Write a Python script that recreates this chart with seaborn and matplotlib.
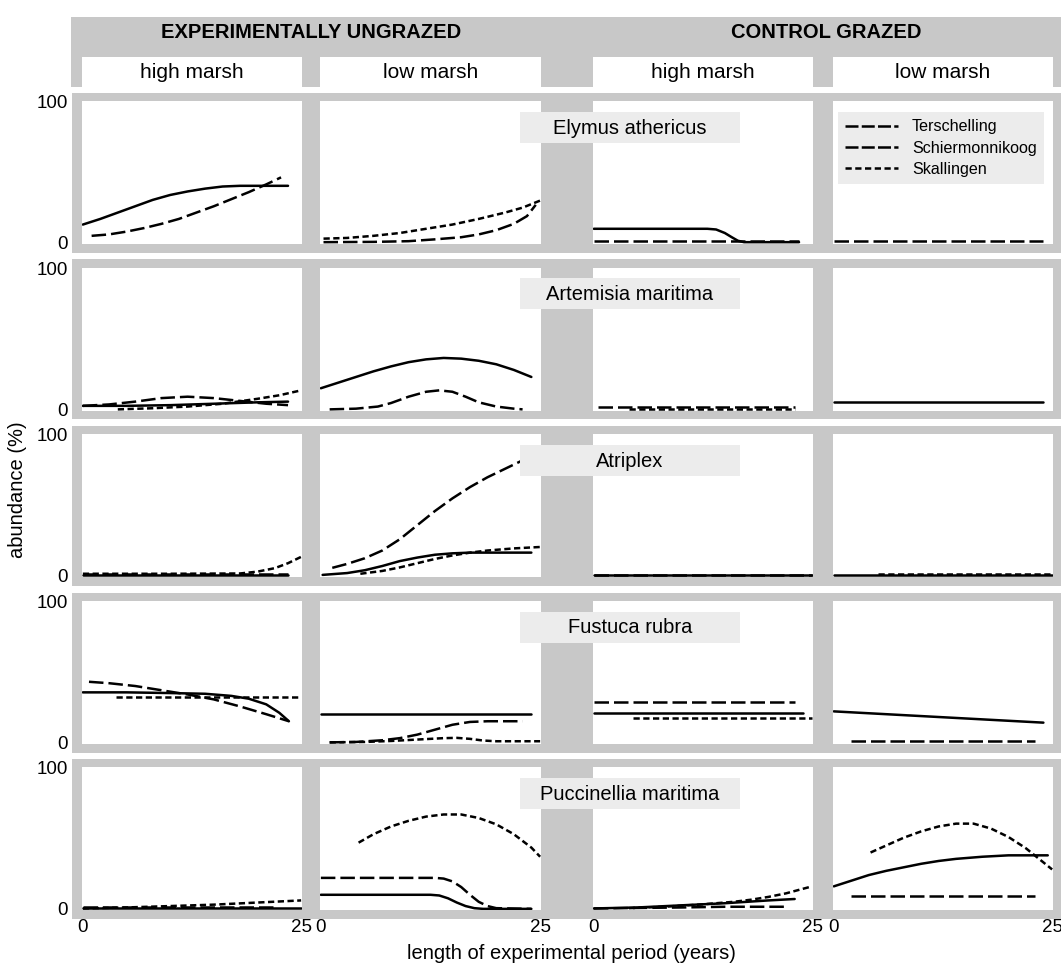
import numpy as np
import pandas as pd
import matplotlib
matplotlib.use("Agg")
import matplotlib.pyplot as plt
from matplotlib.patches import Rectangle
from matplotlib.lines import Line2D
import seaborn as sns

# panel layout: (grazing, marsh)
grazings = ["EXPERIMENTALLY UNGRAZED", "CONTROL GRAZED"]
marshes = ["high marsh", "low marsh"]
species = ["Elymus athericus", "Artemisia maritima", "Atriplex",
           "Fustuca rubra", "Puccinellia maritima"]
sites = ["Terschelling", "Schiermonnikoog", "Skallingen"]

# each record: (column index 0-3, site, years, abundance %)
elymus = [
    (0, "Terschelling", [0, 2, 4, 6, 8, 10, 12, 14, 16, 18, 20, 23.5],
     [13, 17, 21.5, 26, 30.5, 34, 36.5, 38.5, 40, 40.5, 40.5, 40.5]),
    (0, "Schiermonnikoog", [1, 3, 5, 7, 9, 11, 13, 15, 17, 19, 21, 22.7],
     [5, 6, 8, 10.5, 13.5, 17, 21.5, 26, 31, 36, 41.5, 46.5]),
    (1, "Skallingen", [0.3, 3, 6, 9, 12, 15, 18, 21, 23, 25],
     [3, 3.5, 5, 7, 10, 13, 17, 21.5, 25, 30]),
    (1, "Schiermonnikoog", [0.3, 6, 10, 13, 16, 18, 20, 22, 23.5, 24.5],
     [0.5, 0.7, 1.2, 2.5, 4, 6, 9, 13.5, 19, 27]),
    (2, "Terschelling", [0, 13, 14, 15, 15.8, 16.5, 17.2, 23.5],
     [10, 10, 9.5, 7, 4, 1.5, 0.5, 0.5]),
    (2, "Schiermonnikoog", [0, 23.5], [1, 1]),
    (3, "Schiermonnikoog", [0, 24], [1, 1]),
]
artemisia = [
    (0, "Terschelling", [0, 5, 10, 15, 20, 23.5], [2.5, 2.5, 3, 4, 5, 5.5]),
    (0, "Schiermonnikoog", [0, 3, 6, 9, 12, 15, 18, 21, 23.5], [2.5, 3.5, 5.5, 8, 9, 8, 6, 4, 3]),
    (0, "Skallingen", [4, 8, 12, 16, 20, 22.5, 25], [0, 0.8, 2, 4, 7.5, 10, 13.5]),
    (1, "Terschelling", [0, 2, 4, 6, 8, 10, 12, 14, 16, 18, 20, 22, 24],
     [15, 19, 23, 27, 30.5, 33.5, 35.5, 36.5, 36, 34.5, 32, 28, 23]),
    (1, "Schiermonnikoog", [1, 4, 6.5, 8, 10, 12, 13.5, 15, 16.5, 18, 20, 22, 23],
     [0, 0.5, 2, 4.5, 9, 12.5, 13.5, 12.5, 9, 5, 2, 0.5, 0]),
    (2, "Schiermonnikoog", [0.5, 23], [2, 2]),
    (2, "Skallingen", [4, 23], [0.5, 0.5]),
    (3, "Terschelling", [0, 24], [5, 5]),
]
atriplex = [
    (0, "Terschelling", [0, 23.5], [0.5, 0.5]),
    (0, "Schiermonnikoog", [0, 23.5], [1.5, 1.5]),
    (0, "Skallingen", [0, 10, 18, 20, 22, 23.5, 25], [1.5, 1.5, 1.7, 3, 5.5, 9, 13.5]),
    (1, "Schiermonnikoog", [1.3, 3, 5, 7, 9, 11, 13, 15, 17, 19, 21, 23, 24.5],
     [5.7, 8.5, 12.5, 18, 26, 36, 46, 55, 63, 70, 76, 82, 86]),
    (1, "Terschelling", [0.2, 3, 5, 7, 9, 11, 13, 15, 17, 24],
     [0.7, 2, 4, 7, 10.5, 13, 15, 16, 16.5, 16.5]),
    (1, "Skallingen", [4.5, 7, 9, 11, 13, 15, 17, 19, 22, 25],
     [1.5, 3.5, 6, 9, 12, 14.5, 16.5, 18, 19.5, 20.5]),
    (2, "Terschelling", [0, 25], [0.5, 0.5]),
    (2, "Schiermonnikoog", [0, 25], [0.7, 0.7]),
    (3, "Terschelling", [0, 25], [0.5, 0.5]),
    (3, "Skallingen", [5, 25], [1.3, 1.3]),
]
festuca = [
    (0, "Schiermonnikoog", [0.7, 3, 6, 9, 12, 15, 18, 21, 23.6],
     [43, 42, 40, 37, 34, 30.5, 25.5, 20, 15]),
    (0, "Terschelling", [0, 5, 10, 14, 17, 19, 21, 22.5, 23.6],
     [35.5, 35.5, 35, 34.5, 33, 31, 27, 21, 15]),
    (0, "Skallingen", [3.8, 25], [32.5, 32.5]),
    (1, "Terschelling", [0, 24], [20, 20]),
    (1, "Schiermonnikoog", [1, 4, 7, 9, 11, 13, 15, 17, 19, 23],
     [0, 0.3, 1.5, 3, 5.5, 9, 12.5, 14.5, 15, 15]),
    (1, "Skallingen", [1, 5, 8, 11, 14, 15.5, 17, 18.5, 20, 25],
     [0, 0.3, 1, 2, 3, 3.2, 2.5, 1.3, 0.8, 0.8]),
    (2, "Schiermonnikoog", [0, 23], [29, 29]),
    (2, "Terschelling", [0, 24], [21, 21]),
    (2, "Skallingen", [4.5, 25], [17, 17]),
    (3, "Terschelling", [0, 24], [22, 14]),
    (3, "Schiermonnikoog", [2, 23], [1, 1]),
]
puccinellia = [
    (0, "Terschelling", [0, 25], [0.5, 0.5]),
    (0, "Schiermonnikoog", [0, 22], [1, 1]),
    (0, "Skallingen", [0, 5, 10, 15, 20, 25], [0.3, 1, 2, 3, 4.5, 6]),
    (1, "Skallingen", [4.3, 6, 8, 10, 12, 14, 16, 18, 20, 22, 24, 25],
     [47, 53, 58.5, 62.5, 65.5, 67, 67, 64.5, 60, 53, 43.5, 37]),
    (1, "Schiermonnikoog", [0, 13, 14, 15, 16, 17, 18, 19, 20, 24],
     [22, 22, 21.5, 19.5, 15.5, 10, 5, 2, 0.5, 0]),
    (1, "Terschelling", [0, 12.5, 13.5, 14.5, 15.5, 16.5, 17.5, 18.5, 24],
     [10, 10, 9.5, 7.5, 4.5, 2, 0.5, 0, 0]),
    (2, "Terschelling", [0, 5, 10, 15, 20, 23], [0.3, 1, 2.5, 4, 6, 7]),
    (2, "Skallingen", [4, 8, 12, 16, 18, 20, 22, 23.5, 25],
     [0.5, 1.5, 3, 5, 6.5, 8.5, 11, 13.5, 16]),
    (2, "Schiermonnikoog", [0, 10, 15, 22], [0.3, 1, 1.5, 1.5]),
    (3, "Terschelling", [0, 2, 4, 6, 8, 10, 12, 14, 17, 20, 24.5],
     [16, 20, 24, 27, 29.5, 32, 34, 35.5, 37, 38, 38]),
    (3, "Skallingen", [4.2, 6, 8, 10, 12, 14, 16, 18, 20, 22, 24, 25],
     [40, 45, 50.5, 55, 58.5, 60.5, 60.5, 57, 51, 43, 33, 28]),
    (3, "Schiermonnikoog", [2, 23], [9, 9]),
]
all_species = [elymus, artemisia, atriplex, festuca, puccinellia]

rows = []
for r, recs in enumerate(all_species):
    for c, site, xs, ys in recs:
        for x, y in zip(xs, ys):
            rows.append({"row": r, "col": c, "site": site, "year": x, "abundance": y})
df = pd.DataFrame(rows)

sns.set_style("white")
plt.rcParams["font.family"] = ["Liberation Sans", "DejaVu Sans"]
plt.rcParams["text.color"] = "black"
plt.rcParams["xtick.labelcolor"] = "black"
plt.rcParams["ytick.labelcolor"] = "black"

W, H = 1061, 972
GRAY = "#c8c8c8"
LABEL_BG = "#ececec"


def fx(px):
    return px / W


def fy(py):
    return 1 - py / H


fig = plt.figure(figsize=(W / 100, H / 100), dpi=100)


def rect(x0, y0, x1, y1, color, z):
    fig.add_artist(Rectangle((fx(x0), fy(y1)), (x1 - x0) / W, (y1 - y0) / H,
                             transform=fig.transFigure, facecolor=color,
                             edgecolor="none", zorder=z))


col_left = [82, 320, 593, 833]
col_right = [302, 541, 813, 1053]
row_pitch = 166.5

# header
rect(71, 17, W, 87, GRAY, -2)
for c in range(4):
    rect(col_left[c], 57, col_right[c], 87, "white", -1)
    fig.text(fx((col_left[c] + col_right[c]) / 2), fy(72), marshes[c % 2],
             ha="center", va="center", fontsize=15)
fig.text(fx(311), fy(32), grazings[0], ha="center", va="center",
         fontsize=14.5, fontweight="bold")
fig.text(fx(826), fy(32), grazings[1], ha="center", va="center",
         fontsize=14.5, fontweight="bold")

dash_map = {"Terschelling": "", "Schiermonnikoog": (5.8, 2.0), "Skallingen": (2.5, 1.4)}

for r in range(5):
    top = 101 + row_pitch * r
    bot = 244 + row_pitch * r
    rect(72, top - 8, W, bot + 9, GRAY, -2)
    for c in range(4):
        ax = fig.add_axes([fx(col_left[c]), fy(bot), (col_right[c] - col_left[c]) / W, (bot - top) / H])
        ax.set_facecolor("white")
        sub = df[(df["row"] == r) & (df["col"] == c)]
        if len(sub):
            sns.lineplot(data=sub, x="year", y="abundance", style="site",
                         dashes=dash_map, color="black", linewidth=1.8,
                         estimator=None, legend=False, ax=ax)
        ax.set_xlim(-0.1, 25.1)
        ax.set_ylim(-0.8, 100.7)
        for s in ax.spines.values():
            s.set_visible(False)
        ax.set_xlabel("")
        ax.set_ylabel("")
        ax.set_yticks([0, 50, 100])
        ax.set_yticklabels(["0", "", "100"] if c == 0 else ["", "", ""])
        ax.set_xticks([0, 5, 10, 15, 20, 25])
        ax.set_xticklabels(["0", "", "", "", "", "25"] if r == 4 else [""] * 6)
        ax.tick_params(axis="y", direction="out", length=7.2, width=1.3,
                       color="white", pad=3, labelsize=13.5)
        ax.tick_params(axis="x", direction="out", length=6.6, width=1.8,
                       color="white", pad=0, labelsize=13.5)
        if r == 0 and c == 3:
            handles = [Line2D([], [], color="black", lw=1.8, dashes=(5.2, 1.3)),
                       Line2D([], [], color="black", lw=1.8, dashes=(5.2, 1.3)),
                       Line2D([], [], color="black", lw=1.8, dashes=(2.5, 1.4))]
            ax.legend(handles, sites, loc="upper left",
                      bbox_to_anchor=(fx(838), fy(112)),
                      bbox_transform=fig.transFigure, frameon=True,
                      facecolor=LABEL_BG, edgecolor="none", framealpha=1,
                      fancybox=False, borderaxespad=0, fontsize=11.6,
                      handlelength=3.3, handletextpad=0.85,
                      labelspacing=0.4, borderpad=0.45)
    # species label box
    cy = 128 + row_pitch * r
    rect(520, cy - 16, 740, cy + 15, LABEL_BG, 3)
    fig.text(fx(630), fy(cy), species[r], ha="center", va="center",
             fontsize=14.5, zorder=4)

fig.text(fx(18), fy(490), "abundance (%)", rotation=90, ha="center",
         va="center", fontsize=14.5)
fig.text(fx(571), fy(953), "length of experimental period (years)",
         ha="center", va="center", fontsize=14.5)

fig.savefig("out.png", dpi=100)
